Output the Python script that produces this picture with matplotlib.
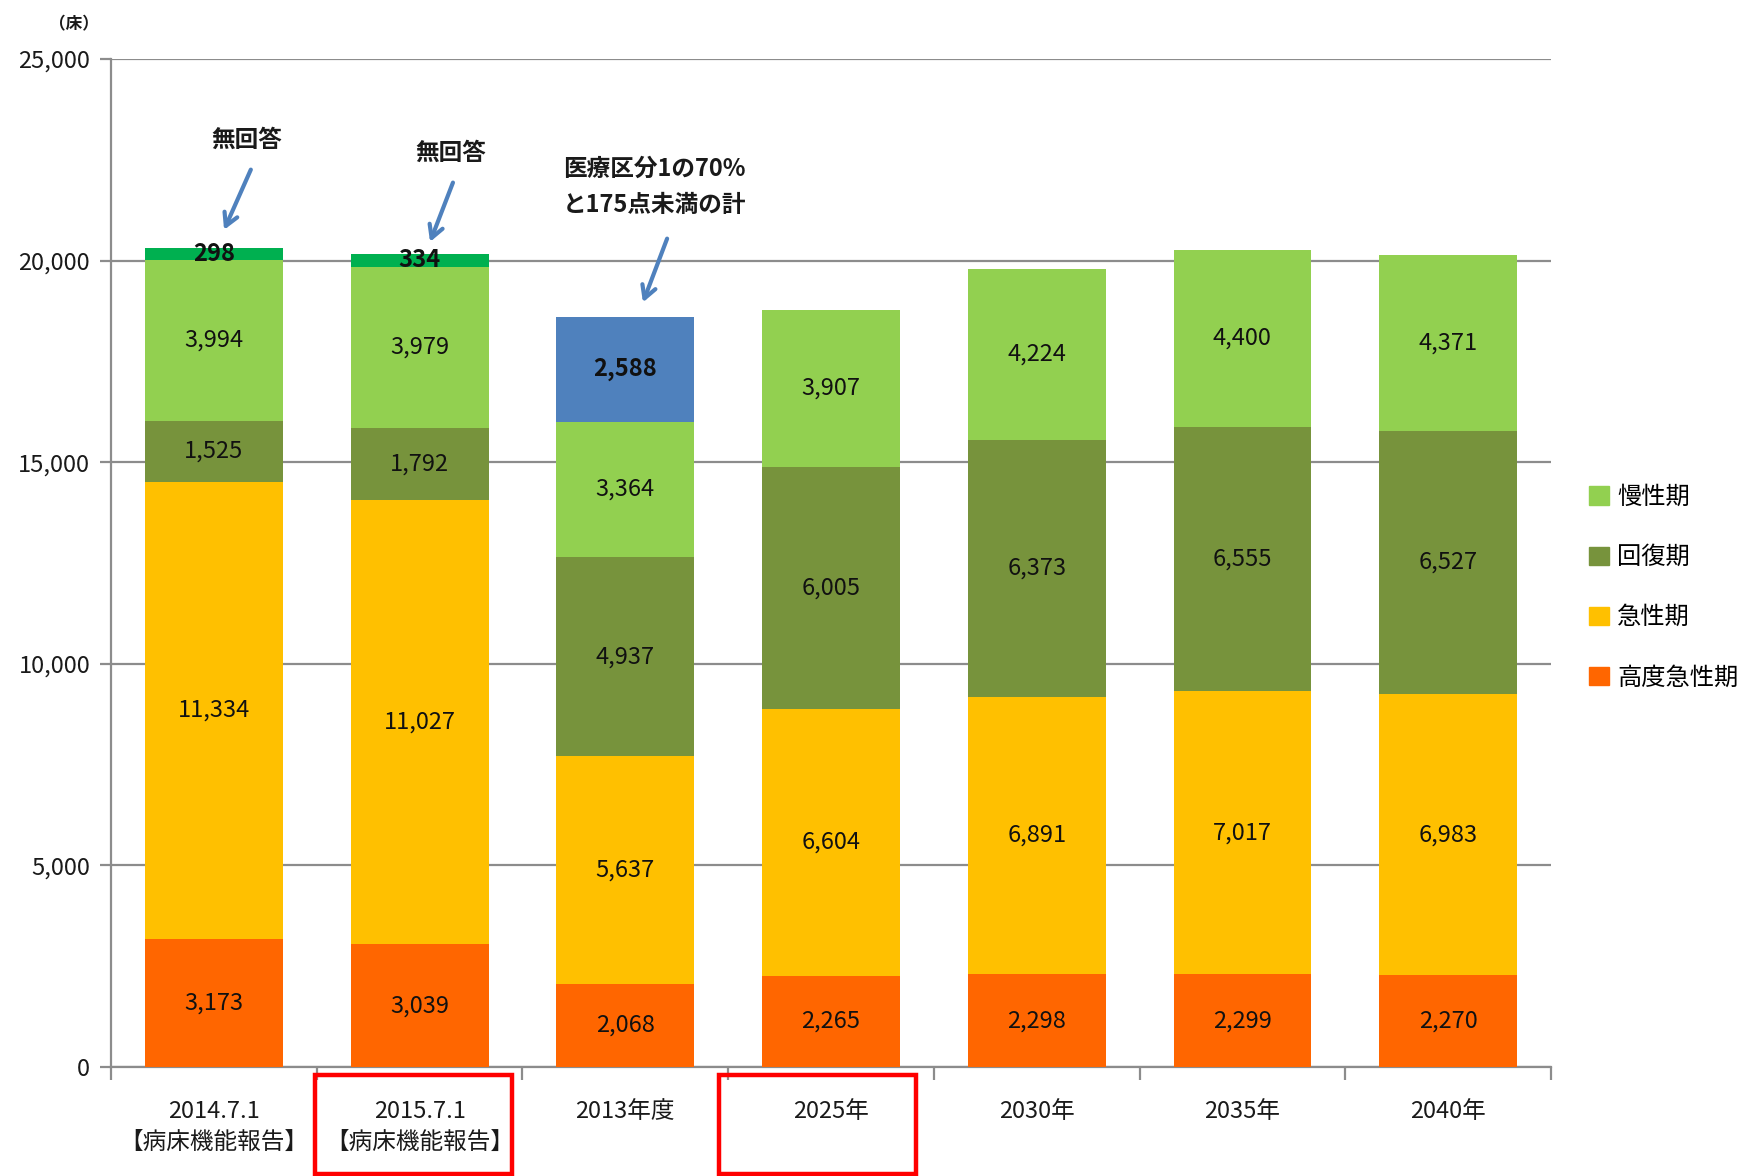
import matplotlib
matplotlib.use("Agg")
import matplotlib.pyplot as plt
import matplotlib.transforms as mtransforms
from matplotlib.patches import Patch, Rectangle
import numpy as np

plt.rcParams['font.family'] = ['Noto Sans CJK JP', 'DejaVu Sans']

# data
categories = ['2014.7.1\n【病床機能報告】', '2015.7.1\n【病床機能報告】', '2013年度',
              '2025年', '2030年', '2035年', '2040年']
high_acute = [3173, 3039, 2068, 2265, 2298, 2299, 2270]
acute = [11334, 11027, 5637, 6604, 6891, 7017, 6983]
recovery = [1525, 1792, 4937, 6005, 6373, 6555, 6527]
chronic = [3994, 3979, 3364, 3907, 4224, 4400, 4371]
no_answer = [298, 334, 0, 0, 0, 0, 0]
medical_70 = [0, 0, 2588, 0, 0, 0, 0]
highlighted = [1, 3]

series = [
    ('高度急性期', high_acute, '#FF6600', False),
    ('急性期', acute, '#FFC000', False),
    ('回復期', recovery, '#77933C', False),
    ('慢性期', chronic, '#92D050', False),
    ('無回答', no_answer, '#00B050', True),
    ('医療区分', medical_70, '#4F81BD', True),
]

fig = plt.figure(figsize=(17.46, 11.76), dpi=100)
ax = fig.add_axes([0.0636, 0.0927, 0.8247, 0.8571])

x = np.arange(len(categories))
width = 0.67
bottom = np.zeros(len(categories))
for name, vals, color, bold in series:
    vals = np.array(vals, dtype=float)
    ax.bar(x, vals, width, bottom=bottom, color=color, zorder=3)
    for xi, v, b in zip(x, vals, bottom):
        if v > 0:
            ax.text(xi, b + v / 2, f'{int(v):,}', ha='center', va='center',
                    fontsize=17, color='#111111',
                    fontweight='bold' if bold else 'normal', zorder=4)
    bottom += vals

grid_c = '#8c8c8c'
ax.set_xlim(-0.5, len(categories) - 0.5)
ax.set_ylim(0, 25000)
ax.set_yticks(np.arange(0, 25001, 5000))
ax.set_yticklabels([f'{v:,}' for v in range(0, 25001, 5000)])
ax.yaxis.grid(True, color=grid_c, linewidth=1.6, zorder=0)
ax.set_axisbelow(True)
for s in ['top', 'right']:
    ax.spines[s].set_visible(False)
for s in ['left', 'bottom']:
    ax.spines[s].set_color(grid_c)
    ax.spines[s].set_linewidth(1.6)
ax.tick_params(axis='y', length=8, width=1.6, color=grid_c, labelsize=17,
               labelcolor='#1a1a1a', pad=7)

ax.set_xticks(x)
ax.set_xticklabels(categories)
for lbl in ax.get_xticklabels():
    lbl.set_linespacing(1.45)
ax.set_xticks(np.arange(-0.5, len(categories), 1), minor=True)
ax.tick_params(axis='x', which='major', length=0, labelsize=17,
               labelcolor='#1a1a1a', pad=24)
ax.tick_params(axis='x', which='minor', length=9, width=1.6, color=grid_c)

ax.text(-0.026, 1.026, '（床）', transform=ax.transAxes, fontsize=12,
        fontweight='bold', ha='center', va='bottom', color='#1a1a1a')

# annotations with arrows
arrow_c = '#4F81BD'
aprops = dict(arrowstyle='->,head_length=0.9,head_width=0.5', color=arrow_c, lw=3)
ax.annotate('', xy=(0.044, 20700), xytext=(0.185, 22320), arrowprops=aprops)
ax.text(0.16, 22990, '無回答', ha='center', va='center', fontsize=17,
        fontweight='bold', color='#1a1a1a')
ax.annotate('', xy=(1.046, 20400), xytext=(1.167, 22000), arrowprops=aprops)
ax.text(1.153, 22670, '無回答', ha='center', va='center', fontsize=17,
        fontweight='bold', color='#1a1a1a')
ax.annotate('', xy=(2.081, 18900), xytext=(2.208, 20610), arrowprops=aprops)
ax.text(1.697, 21830, '医療区分1の70%\nと175点未満の計', ha='left', va='center',
        fontsize=17, fontweight='bold', color='#1a1a1a', linespacing=1.65)

# red boxes around highlighted category labels
trans = mtransforms.blended_transform_factory(ax.transData, fig.transFigure)
for i, off in zip(highlighted, [0.51, 0.545]):
    ax.add_patch(Rectangle((i - off, 0.002), 0.96, 0.084, transform=trans,
                           fill=False, edgecolor='#FF0000', linewidth=3.2,
                           clip_on=False, zorder=5))

handles = [Patch(color=c) for _, _, c, _ in series[3::-1]]
labels = [n for n, _, _, _ in series[3::-1]]
fig.legend(handles, labels, loc='upper left', bbox_to_anchor=(0.9047, 0.5965),
           frameon=False, fontsize=17.5, handlelength=0.8, handleheight=0.8,
           handletextpad=0.35, labelspacing=1.4, borderaxespad=0)

fig.savefig('out.png', dpi=100)
